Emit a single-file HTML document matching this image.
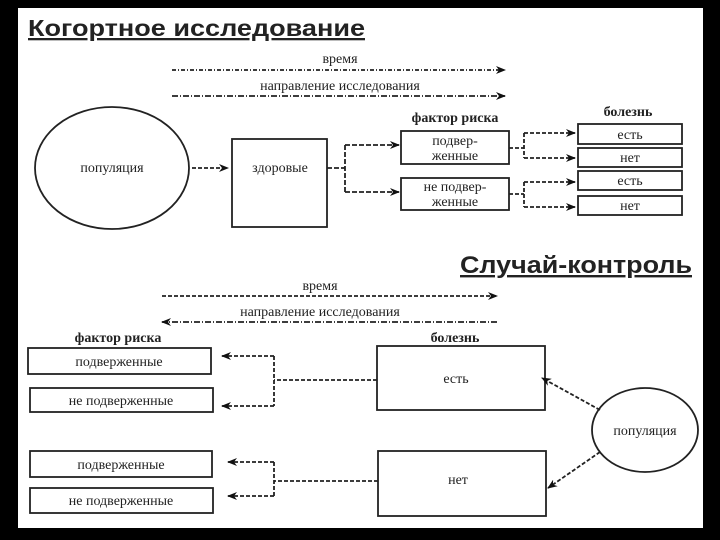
<!DOCTYPE html>
<html><head><meta charset="utf-8"><style>
html,body{margin:0;padding:0;background:#000;}
svg{display:block}
</style></head><body>
<svg width="720" height="540" xmlns="http://www.w3.org/2000/svg" font-family="Liberation Serif, serif" font-size="14" fill="#222">
<defs>
<marker id="a" markerWidth="10" markerHeight="8" refX="9" refY="4" orient="auto" markerUnits="userSpaceOnUse"><path d="M0,0 L10,4 L0,8 L3,4 z" fill="#111"/></marker>
</defs>
<rect x="0" y="0" width="720" height="540" fill="#000"/>
<rect x="18" y="8" width="685" height="520" fill="#fff"/>
<g stroke="#222" stroke-width="1.8" fill="none">
<line x1="172" y1="70" x2="505" y2="70" stroke-dasharray="4,2,1,2" marker-end="url(#a)"/>
<line x1="172" y1="96" x2="505" y2="96" stroke-dasharray="6,2,1,2" marker-end="url(#a)"/>
<ellipse cx="112" cy="168" rx="77" ry="61"/>
<line x1="192" y1="168" x2="228" y2="168" stroke-dasharray="4,2" marker-end="url(#a)"/>
<rect x="232" y="139" width="95" height="88"/>
<path d="M327 168 H345 M345 145 V192" stroke-dasharray="5,2"/>
<line x1="345" y1="145" x2="399" y2="145" stroke-dasharray="5,2" marker-end="url(#a)"/>
<line x1="345" y1="192" x2="399" y2="192" stroke-dasharray="5,2" marker-end="url(#a)"/>
<rect x="401" y="131" width="108" height="33"/>
<rect x="401" y="178" width="108" height="32"/>
<path d="M509 148 H524 M524 133 V158 M509 194 H524 M524 182 V207" stroke-dasharray="4,2"/>
<line x1="524" y1="133" x2="575" y2="133" stroke-dasharray="4,2" marker-end="url(#a)"/>
<line x1="524" y1="158" x2="575" y2="158" stroke-dasharray="4,2" marker-end="url(#a)"/>
<line x1="524" y1="182" x2="575" y2="182" stroke-dasharray="4,2" marker-end="url(#a)"/>
<line x1="524" y1="207" x2="575" y2="207" stroke-dasharray="4,2" marker-end="url(#a)"/>
<rect x="578" y="124" width="104" height="20"/>
<rect x="578" y="148" width="104" height="19"/>
<rect x="578" y="171" width="104" height="19"/>
<rect x="578" y="196" width="104" height="19"/>
<line x1="162" y1="296" x2="497" y2="296" stroke-dasharray="4,2" marker-end="url(#a)"/>
<line x1="497" y1="322" x2="162" y2="322" stroke-dasharray="6,2,1,2" marker-end="url(#a)"/>
<rect x="28" y="348" width="183" height="26"/>
<rect x="30" y="388" width="183" height="24"/>
<rect x="30" y="451" width="182" height="26"/>
<rect x="30" y="488" width="183" height="25"/>
<rect x="377" y="346" width="168" height="64"/>
<rect x="378" y="451" width="168" height="65"/>
<path d="M377 380 H274 M274 356 V406 M378 481 H274 M274 462 V496" stroke-dasharray="4,2"/>
<line x1="274" y1="356" x2="222" y2="356" stroke-dasharray="4,2" marker-end="url(#a)"/>
<line x1="274" y1="406" x2="222" y2="406" stroke-dasharray="4,2" marker-end="url(#a)"/>
<line x1="274" y1="462" x2="228" y2="462" stroke-dasharray="4,2" marker-end="url(#a)"/>
<line x1="274" y1="496" x2="228" y2="496" stroke-dasharray="4,2" marker-end="url(#a)"/>
<ellipse cx="645" cy="430" rx="53" ry="42"/>
<line x1="600" y1="410" x2="542" y2="378" stroke-dasharray="4,2" marker-end="url(#a)"/>
<line x1="600" y1="452" x2="548" y2="488" stroke-dasharray="4,2" marker-end="url(#a)"/>
</g>
<g font-family="Liberation Sans, sans-serif" font-weight="bold" fill="#222">
<text x="28" y="36" font-size="23" textLength="337" lengthAdjust="spacingAndGlyphs" text-decoration="underline">Когортное исследование</text>
<text x="460" y="273" font-size="24" textLength="232" lengthAdjust="spacingAndGlyphs" text-decoration="underline">Случай-контроль</text>
</g>
<g text-anchor="middle">
<text x="340" y="63">время</text>
<text x="340" y="90">направление исследования</text>
<text x="112" y="172">популяция</text>
<text x="280" y="172">здоровые</text>
<text x="455" y="122" font-weight="bold">фактор риска</text>
<text x="455" y="145">подвер-</text>
<text x="455" y="160">женные</text>
<text x="455" y="191">не подвер-</text>
<text x="455" y="206">женные</text>
<text x="628" y="116" font-weight="bold">болезнь</text>
<text x="630" y="139">есть</text>
<text x="630" y="162">нет</text>
<text x="630" y="185">есть</text>
<text x="630" y="210">нет</text>
<text x="320" y="290">время</text>
<text x="320" y="316">направление исследования</text>
<text x="118" y="342" font-weight="bold">фактор риска</text>
<text x="455" y="342" font-weight="bold">болезнь</text>
<text x="119" y="366">подверженные</text>
<text x="121" y="405">не подверженные</text>
<text x="121" y="469">подверженные</text>
<text x="121" y="505">не подверженные</text>
<text x="456" y="383">есть</text>
<text x="458" y="484">нет</text>
<text x="645" y="435">популяция</text>
</g>
</svg>
</body></html>
